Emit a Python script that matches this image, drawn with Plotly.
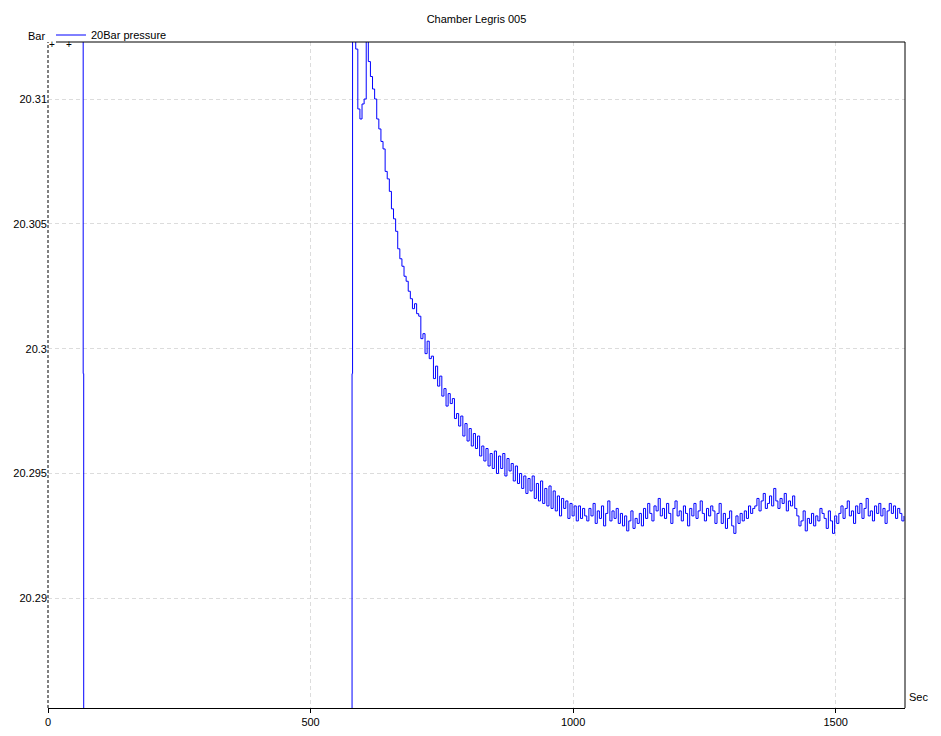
import plotly.graph_objects as go

# ---- data (seconds, bar) ----
t_pre = [0, 66, 67, 68, 578, 579, 580]
v_pre = [20.33, 20.33, 20.299, 20.20, 20.20, 20.299, 20.33]

t_decay = list(range(582, 1026, 4))
v_decay = [
    20.3125, 20.3120, 20.3096, 20.3092, 20.3098, 20.3100, 20.3124, 20.3115, 20.3109, 20.3104,
    20.3100, 20.3092, 20.3088, 20.3083, 20.3080, 20.3071, 20.3068, 20.3063, 20.3056, 20.3052,
    20.3047, 20.3040, 20.3036, 20.3033, 20.3029, 20.3027, 20.3023, 20.3020, 20.3016, 20.3018,
    20.3014, 20.3013, 20.3004, 20.3006, 20.2998, 20.3003, 20.2996, 20.2997, 20.2988, 20.2993,
    20.2985, 20.2989, 20.2981, 20.2984, 20.2977, 20.2982, 20.2978, 20.2980, 20.2972, 20.2974,
    20.2969, 20.2973, 20.2965, 20.2970, 20.2963, 20.2968, 20.2961, 20.2966, 20.2960, 20.2965,
    20.2957, 20.2961, 20.2955, 20.2960, 20.2953, 20.2958, 20.2952, 20.2959, 20.2950, 20.2957,
    20.2952, 20.2958, 20.2949, 20.2956, 20.2951, 20.2954, 20.2947, 20.2953, 20.2946, 20.2950,
    20.2944, 20.2949, 20.2942, 20.2948, 20.2943, 20.2949, 20.2940, 20.2946, 20.2939, 20.2947,
    20.2938, 20.2944, 20.2937, 20.2945, 20.2936, 20.2943, 20.2935, 20.2941, 20.2933, 20.2940,
    20.2936, 20.2939, 20.2932, 20.2938, 20.2933, 20.2937, 20.2931, 20.2937, 20.2932, 20.2936,
    20.2933,
]

t_flat = list(range(1026, 1634, 4))
v_flat = [
    20.2931, 20.2936, 20.2933, 20.2938, 20.2930, 20.2935, 20.2932, 20.2937, 20.2929, 20.2934,
    20.2939, 20.2931, 20.2935, 20.2932, 20.2936, 20.2930, 20.2934,
    20.2929, 20.2933, 20.2927, 20.2931, 20.2935, 20.2928, 20.2932, 20.2930, 20.2934, 20.2929,
    20.2936, 20.2932, 20.2938, 20.2934, 20.2931, 20.2937, 20.2935, 20.2940, 20.2933, 20.2936,
    20.2932, 20.2938, 20.2934, 20.2930, 20.2936, 20.2939, 20.2933, 20.2935, 20.2931, 20.2937,
    20.2934, 20.2929, 20.2936, 20.2933, 20.2938, 20.2932, 20.2935, 20.2939, 20.2934, 20.2931,
    20.2936, 20.2933, 20.2937, 20.2935, 20.2930, 20.2934, 20.2938,
    20.2930, 20.2934, 20.2928, 20.2932, 20.2935, 20.2929, 20.2926, 20.2933, 20.2930, 20.2934,
    20.2931,
    20.2935, 20.2932, 20.2937, 20.2934, 20.2936,
    20.2937, 20.2940, 20.2935, 20.2939, 20.2942, 20.2936, 20.2938, 20.2941, 20.2937, 20.2944,
    20.2939, 20.2936, 20.2940, 20.2938, 20.2942, 20.2935, 20.2939, 20.2937, 20.2941, 20.2936,
    20.2933, 20.2929, 20.2931, 20.2935, 20.2927, 20.2932, 20.2930, 20.2934, 20.2929, 20.2933,
    20.2931, 20.2936,
    20.2934, 20.2932, 20.2928, 20.2935, 20.2931, 20.2926, 20.2933, 20.2930,
    20.2934, 20.2937, 20.2932, 20.2936, 20.2939, 20.2933, 20.2935, 20.2930, 20.2937, 20.2934,
    20.2938, 20.2932, 20.2936, 20.2940, 20.2933, 20.2935, 20.2931, 20.2937, 20.2934, 20.2938,
    20.2933, 20.2936, 20.2930, 20.2935, 20.2938, 20.2934, 20.2937, 20.2932, 20.2936, 20.2934,
    20.2931, 20.2933,
]

x_ticks = [0, 500, 1000, 1500]
y_ticks = [20.29, 20.295, 20.3, 20.305, 20.31]
y_tick_labels = ["20.29", "20.295", "20.3", "20.305", "20.31"]

t_all = t_pre + t_decay + t_flat[:len(v_flat)]
v_all = v_pre + v_decay + v_flat

FONT = "Liberation Sans, Arial, sans-serif"
GRID = "#dcdcdc"

fig = go.Figure()
fig.add_trace(go.Scatter(
    x=t_all, y=v_all, mode="lines", name="20Bar pressure",
    line=dict(color="#0000ff", width=1, shape="hv"),
))

fig.update_layout(
    width=933, height=728,
    margin=dict(l=40, r=36, t=34, b=28, autoexpand=False),
    paper_bgcolor="white", plot_bgcolor="white",
    font=dict(family=FONT, size=11, color="black"),
    title=dict(text="Chamber Legris 005", x=0.5, xref="paper", xanchor="center",
               y=1 - 11 / 728, yanchor="middle", font=dict(size=11, color="black")),
    showlegend=True,
    legend=dict(x=0.0035, xanchor="left", y=1.0105, yanchor="middle",
                orientation="h", bgcolor="rgba(0,0,0,0)",
                font=dict(size=11), itemwidth=30),
    xaxis=dict(range=[0, 1632], tickvals=x_ticks, ticks="outside", ticklen=4,
               tickcolor="black", showline=True, linecolor="black", linewidth=1,
               showgrid=True, gridcolor=GRID, griddash="4px,3px", zeroline=False,
               tickfont=dict(size=11), automargin=False),
    yaxis=dict(range=[20.285606, 20.312283], tickvals=y_ticks, ticktext=y_tick_labels,
               ticks="", showline=False, showgrid=True, gridcolor=GRID,
               griddash="4px,3px", zeroline=False, tickfont=dict(size=11),
               automargin=False),
    shapes=[
        dict(type="line", xref="paper", yref="paper", x0=0, x1=0, y0=0, y1=1,
             line=dict(color="black", width=1, dash="3px,2px")),
        dict(type="line", xref="paper", yref="paper", x0=0.0093, x1=1, y0=1, y1=1,
             line=dict(color="black", width=1)),
        dict(type="line", xref="paper", yref="paper", x0=1, x1=1, y0=0, y1=1,
             line=dict(color="black", width=1)),
    ],
    annotations=[
        dict(text="Bar", xref="paper", yref="paper", x=-0.001, y=1.0090,
             xanchor="right", yanchor="middle", showarrow=False, font=dict(size=11)),
        dict(text="Sec", xref="paper", yref="paper", x=1.002, y=0.016,
             xanchor="left", yanchor="middle", showarrow=False, font=dict(size=11)),
        dict(text="+", xref="paper", yref="paper", x=0.0047, y=0.9955,
             xanchor="center", yanchor="middle", showarrow=False, font=dict(size=10)),
        dict(text="+", xref="paper", yref="paper", x=0.0240, y=0.9955,
             xanchor="center", yanchor="middle", showarrow=False, font=dict(size=10)),
    ],
)

fig.write_html("out.html")
